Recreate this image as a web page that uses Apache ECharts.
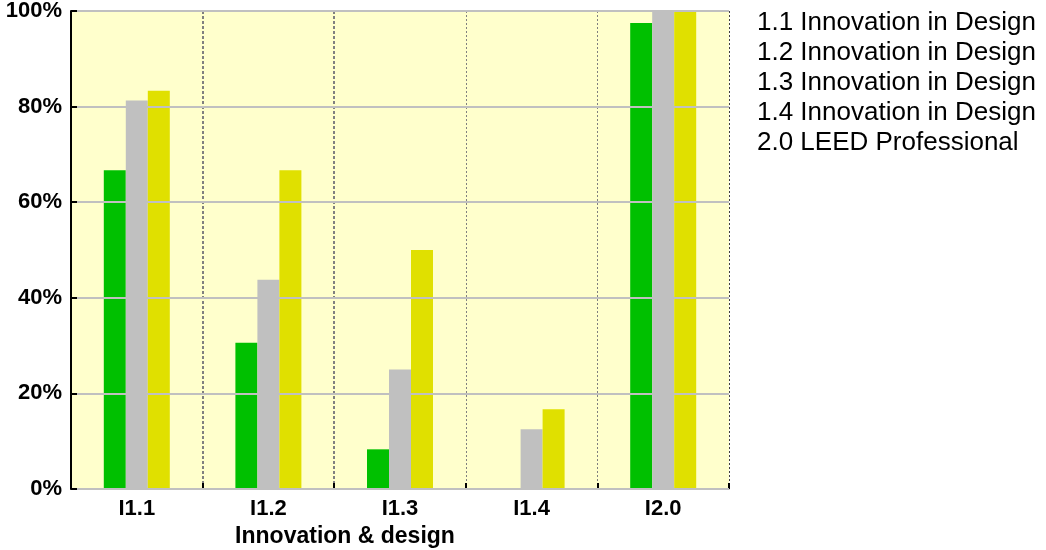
<!DOCTYPE html>
<html>
<head>
<meta charset="utf-8">
<script src="https://cdn.jsdelivr.net/npm/echarts@6/dist/echarts.min.js"></script>
<style>
html,body{margin:0;padding:0;background:#fff;}
#chart{width:1046px;height:550px;}
</style>
</head>
<body>
<div id="chart"></div>
<script>
const categories = ['I1.1', 'I1.2', 'I1.3', 'I1.4', 'I2.0'];
const seriesNames = ['Series 1', 'Series 2', 'Series 3'];
const greenValues = [66.7, 30.6, 8.3, 0, 97.5];
const grayValues = [81.3, 43.8, 25.0, 12.5, 100];
const yellowValues = [83.3, 66.7, 50.0, 16.7, 100];
const yTicks = [0, 20, 40, 60, 80, 100];
const legendLines = [
  '1.1 Innovation in Design',
  '1.2 Innovation in Design',
  '1.3 Innovation in Design',
  '1.4 Innovation in Design',
  '2.0 LEED Professional'
];
const axisName = 'Innovation & design';

const FONT = 'Arial, "Liberation Sans", sans-serif';
const chart = echarts.init(document.getElementById('chart'), null, {renderer: 'canvas'});

const barBase = {type: 'bar', barWidth: 22, barGap: '0%', xAxisIndex: 0, yAxisIndex: 0, animation: false};

chart.setOption({
  animation: false,
  grid: {left: 71, right: 317, top: 11, bottom: 61, show: true, backgroundColor: '#FFFFCC', borderWidth: 0,
    containLabel: false, outerBoundsMode: 'none'},
  xAxis: [
    {
      type: 'category', data: categories, position: 'bottom',
      axisLine: {show: true, lineStyle: {color: '#C0C0C0', width: 2}},
      axisTick: {show: true, inside: true, length: 6, lineStyle: {color: '#000', width: 2}},
      axisLabel: {color: '#000', fontFamily: FONT, fontWeight: 'bold', fontSize: 22, margin: 9},
      splitLine: {show: false},
      name: axisName, nameLocation: 'middle', nameGap: 35,
      nameTextStyle: {color: '#000', fontFamily: FONT, fontWeight: 'bold', fontSize: 23, padding: [0, 110, 0, 0]},
      z: 1
    },
    {
      type: 'category', data: categories, position: 'bottom',
      axisLine: {show: false}, axisTick: {show: false}, axisLabel: {show: false},
      splitLine: {show: true, interval: function (i) { return i === 1 || i === 2; },
        lineStyle: {color: ['#808080', '#808080', 'rgba(0,0,0,0)'], width: 2, type: [3, 2]}}
    },
    {
      type: 'category', data: categories, position: 'bottom',
      axisLine: {show: false}, axisTick: {show: false}, axisLabel: {show: false},
      splitLine: {show: true, interval: function (i) { return i === 3 || i === 4; },
        lineStyle: {color: ['#808080', '#808080', '#404040'], width: 1, type: [2, 2]}}
    }
  ],
  yAxis: [{
    type: 'value', min: 0, max: 100, interval: 20,
    axisLine: {show: true, lineStyle: {color: '#000', width: 2}},
    axisTick: {show: true, inside: true, length: 6, lineStyle: {color: '#000', width: 2}},
    axisLabel: {color: '#000', fontFamily: FONT, fontWeight: 'bold', fontSize: 22, margin: 9,
      padding: [5, 0, 0, 0],
      formatter: function (v) { return yTicks.indexOf(v) >= 0 ? v + '%' : ''; }},
    splitLine: {show: true, lineStyle: {color: '#C0C0C0', width: 2}},
    z: 3
  }],
  series: [
    Object.assign({}, barBase, {name: seriesNames[0], data: greenValues, itemStyle: {color: '#00C000'}}),
    Object.assign({}, barBase, {name: seriesNames[1], data: grayValues, itemStyle: {color: '#C0C0C0'}}),
    Object.assign({}, barBase, {name: seriesNames[2], data: yellowValues, itemStyle: {color: '#E0E000'}})
  ],
  graphic: [{
    type: 'text', left: 757, top: 8,
    style: {text: legendLines.join('\n'), fill: '#000', font: '26px ' + FONT, lineHeight: 30}
  }]
});
</script>
</body>
</html>
